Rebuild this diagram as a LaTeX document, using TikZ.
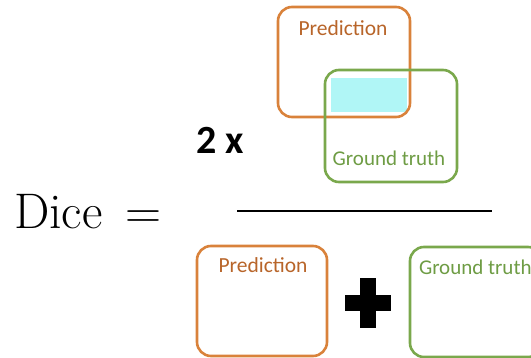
\documentclass[tikz,border=0pt]{standalone}
\usepackage{fontspec}
\newfontfamily\calib{Carlito}
\usetikzlibrary{positioning, calc}
\definecolor{predorange}{HTML}{D9823B}
\definecolor{predtext}{HTML}{B8652A}
\definecolor{gtgreen}{HTML}{7AA84C}
\definecolor{gttext}{HTML}{6E9C44}
\definecolor{overlap}{HTML}{B0F6F6}

\begin{document}
\begin{tikzpicture}[x=1pt, y=-1pt,
    every node/.style={inner sep=0pt, outer sep=0pt},
    pbox/.style={draw=predorange, line width=2.6pt, rounded corners=14pt, minimum width=#1, minimum height=110pt},
    gbox/.style={draw=gtgreen, line width=2.6pt, rounded corners=14pt, minimum width=#1, minimum height=110pt},
    plab/.style={text=predtext, font=\calib\fontsize{21.5}{24}\selectfont},
    glab/.style={text=gttext, font=\calib\fontsize{21}{24}\selectfont}
]
\useasboundingbox (0,0) rectangle (531,358);
\clip (0,0) rectangle (531,358);
% intersection of the two regions
\fill[overlap] (331,78) rectangle (407,112);
% numerator
\node[pbox=132pt] (predtop) at (344,62) {};
\node[gbox=132pt, minimum height=112pt] (gttop) at (391,126) {};
\node[plab] (predtoplab) at (343,28) {Prediction};
\node[glab] (gttoplab) at (389,158) {Ground truth};
\node[font=\calib\bfseries\fontsize{40}{42}\selectfont] (two) at (220,140) {2 x};
% fraction
\node[font=\fontsize{50}{55}\selectfont, anchor=base west] (dice) at (14,229) {Dice \,=};
\draw[line width=2pt] (237,211) -- (492,211);
% denominator
\node[pbox=130pt] (predbot) at (262,301) {};
\node[plab] (predbotlab) at (263,265) {Prediction};
\node[gbox=132pt] (gtbot) at (476,302) {};
\node[glab, anchor=west] (gtbotlab) at (419,267) {Ground truth};
\node (plus) at (368,303) {};
\fill ($(plus)+(-23,-8)$) rectangle ($(plus)+(23,8)$);
\fill ($(plus)+(-8,-25)$) rectangle ($(plus)+(8,25)$);
\end{tikzpicture}
\end{document}
